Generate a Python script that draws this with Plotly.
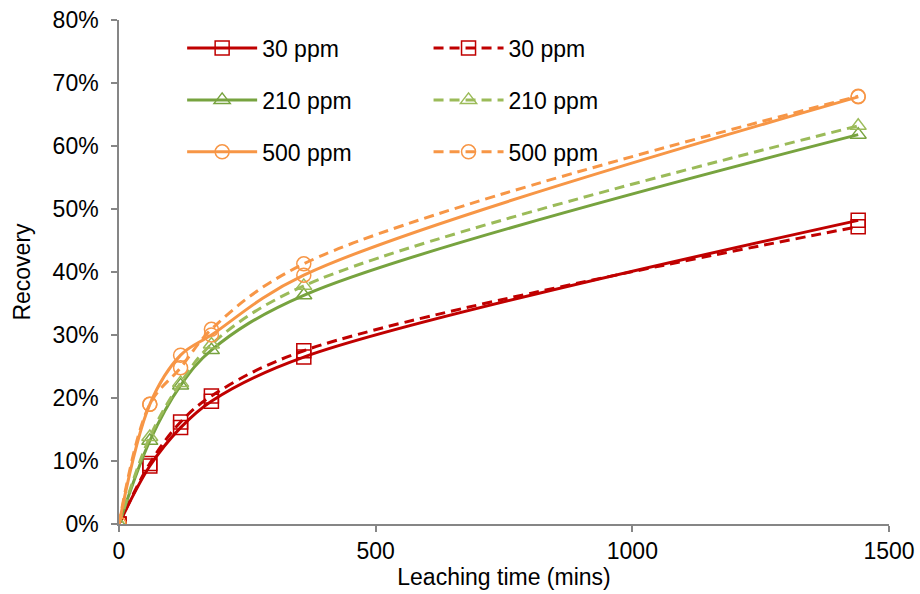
import plotly.graph_objects as go

time_min = [0, 60, 120, 180, 360, 1440]

r30_solid = [0.0, 9.2, 15.3, 19.5, 26.5, 48.2]
r30_dash = [0.0, 9.6, 16.2, 20.3, 27.5, 47.2]
r210_solid = [0.0, 13.2, 22.0, 27.6, 36.3, 61.8]
r210_dash = [0.0, 13.8, 22.4, 28.5, 37.8, 63.2]
r500_solid = [0.0, 19.0, 26.8, 30.0, 39.5, 67.8]
r500_dash = [0.0, 19.0, 24.8, 30.9, 41.3, 67.9]

names = ["30 ppm", "30 ppm", "210 ppm", "210 ppm", "500 ppm", "500 ppm"]
series = [r30_solid, r30_dash, r210_solid, r210_dash, r500_solid, r500_dash]
colors = ["#C00000", "#C00000", "#77A33F", "#9BBB59", "#F79646", "#F79646"]
symbols = ["square-open", "square-open", "triangle-up-open", "triangle-up-open",
           "circle-open", "circle-open"]
dashes = ["solid", "10px,6px", "solid", "10px,6px", "solid", "10px,6px"]
legends = ["legend", "legend2", "legend", "legend2", "legend", "legend2"]

fig = go.Figure()
for i in range(6):
    fig.add_trace(go.Scatter(
        x=time_min, y=[v / 100 for v in series[i]], name=names[i],
        mode="lines+markers",
        line=dict(color=colors[i], width=3, dash=dashes[i], shape="spline", smoothing=1.0),
        marker=dict(symbol=symbols[i], size=14, color=colors[i],
                    line=dict(color=colors[i], width=1.5)),
        legend=legends[i], legendgroup="g%d" % i,
    ))

font = dict(family="Liberation Sans, Arial, sans-serif", size=23, color="#000000")
axis_col = "#868686"

leg_common = dict(
    font=font, bgcolor="rgba(0,0,0,0)", borderwidth=0,
    traceorder="grouped", tracegroupgap=19, itemwidth=70,
    yanchor="top", y=0.987, xanchor="left",
)

fig.update_layout(
    width=920, height=594,
    margin=dict(l=119, r=31, t=20, b=70, autoexpand=False),
    paper_bgcolor="white", plot_bgcolor="white",
    font=font,
    showlegend=True,
    legend=dict(x=0.082, **leg_common),
    legend2=dict(x=0.402, **leg_common),
    xaxis=dict(
        range=[0, 1500], tickvals=[0, 500, 1000, 1500], ticktext=["0", "500", "1000", "1500"],
        showgrid=False, zeroline=False, showline=True, linecolor=axis_col, linewidth=1.5,
        ticks="outside", ticklen=6, tickcolor=axis_col, tickwidth=1.5,
        tickfont=font, automargin=False,
        title=dict(text="Leaching time (mins)", font=font, standoff=0),
    ),
    yaxis=dict(
        range=[0, 0.8], tickvals=[0, 0.1, 0.2, 0.3, 0.4, 0.5, 0.6, 0.7, 0.8],
        tickformat=".0%",
        showgrid=False, zeroline=False, showline=True, linecolor=axis_col, linewidth=1.5,
        ticks="outside", ticklen=6, tickcolor=axis_col, tickwidth=1.5,
        tickfont=font, automargin=False, ticklabelstandoff=8,
        title=dict(text="Recovery", font=font, standoff=16),
    ),
)

fig.write_html("out.html")
